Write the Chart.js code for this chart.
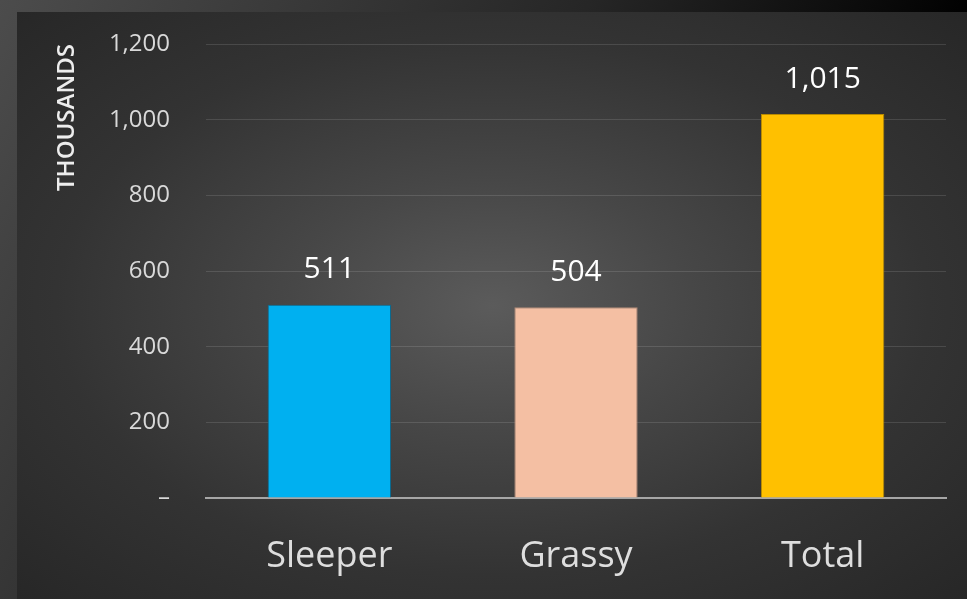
<!DOCTYPE html>
<html>
<head>
<meta charset="utf-8">
<script src="https://cdn.jsdelivr.net/npm/chart.js@4/dist/chart.umd.min.js"></script>
<style>
  html, body { margin: 0; padding: 0; }
  body {
    width: 967px; height: 599px; overflow: hidden; position: relative;
    background: linear-gradient(120deg, #4c4c4c 0%, #262626 45%, #000 75%);
  }
  #panel {
    position: absolute; left: 17px; top: 12px; right: 0; bottom: 0;
    background: radial-gradient(ellipse farthest-corner at 50% 50%, #5b5b5b 0%, #474747 30%, #333 65%, #272727 100%);
  }
  #wrap { position: absolute; left: 0; top: 0; width: 967px; height: 599px; }
</style>
</head>
<body>
<div id="panel"></div>
<div id="wrap"><canvas id="salesChart"></canvas></div>
<script>
// data
const categories = ['Sleeper', 'Grassy', 'Total'];
const values = [511, 504, 1015];
const barColors = ['#00b0f0', '#f4bfa3', '#ffc000'];
const barEdges = ['#0a6a90', '#b08a78', '#b88a00'];
const yTicks = [0, 200, 400, 600, 800, 1000, 1200];

Chart.defaults.font.family = "'Open Sans', sans-serif";

// label angka di atas bar
const valueLabels = {
  id: 'valueLabels',
  afterDatasetsDraw(chart) {
    const ctx = chart.ctx;
    const meta = chart.getDatasetMeta(0);
    ctx.save();
    ctx.font = "30px 'Open Sans', sans-serif";
    ctx.fillStyle = '#ffffff';
    ctx.textAlign = 'center';
    ctx.textBaseline = 'middle';
    meta.data.forEach((bar, i) => {
      ctx.fillText(values[i].toLocaleString('en-US'), bar.x, bar.y - 35);
    });
    ctx.restore();
  }
};

const ctx = document.getElementById('salesChart').getContext('2d');
const chart = new Chart(ctx, {
  type: 'bar',
  data: {
    labels: categories,
    datasets: [{
      data: values,
      backgroundColor: barColors,
      borderColor: barEdges,
      borderWidth: 1,
      barPercentage: 0.5,
      categoryPercentage: 1
    }]
  },
  options: {
    responsive: true,
    maintainAspectRatio: false,
    animation: false,
    layout: { padding: { top: 44, right: 21, bottom: 23, left: 0 } },
    plugins: {
      legend: { display: false },
      tooltip: { enabled: false }
    },
    scales: {
      x: {
        afterFit(scale) { scale.height = 78; },
        grid: { display: false, drawTicks: false },
        border: { display: true, color: '#a6a6a6', width: 2 },
        ticks: { color: '#dedede', font: { size: 36 }, padding: 37 }
      },
      y: {
        min: 0,
        max: 1200,
        afterBuildTicks(scale) {
          scale.ticks = yTicks.map(v => ({ value: v }));
        },
        afterFit(scale) {
          scale.width = 206;
          scale.paddingTop = 0;
          scale.paddingBottom = 0;
        },
        grid: { color: 'rgba(255,255,255,0.12)', lineWidth: 1, drawTicks: false },
        border: { display: false },
        ticks: {
          color: '#d9d9d9',
          font: { size: 24 },
          padding: 36,
          callback: v => v === 0 ? '–' : v.toLocaleString('en-US')
        },
        title: {
          display: true,
          text: 'THOUSANDS',
          color: '#ededed',
          align: 'end',
          font: { size: 24, weight: '600' },
          padding: { top: 53, bottom: 0 }
        }
      }
    }
  },
  plugins: [valueLabels]
});
</script>
</body>
</html>
